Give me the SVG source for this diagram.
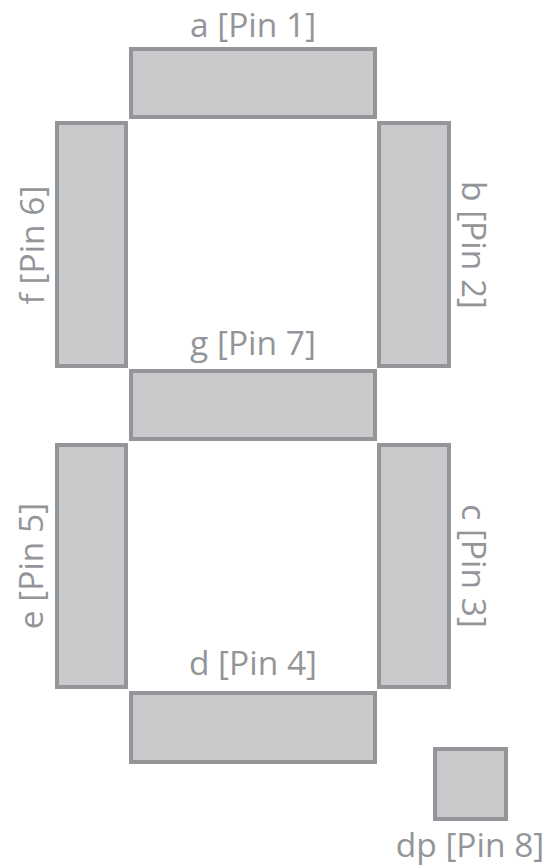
<svg xmlns="http://www.w3.org/2000/svg" width="551" height="867" viewBox="0 0 551 867">
<style>
.seg{fill:#c8c9cb;stroke:#939598;stroke-width:4}
.lbl{fill:#939598;font-family:"Open Sans","Liberation Sans",sans-serif;font-size:33.5px;text-anchor:middle}
</style>
<rect width="551" height="867" fill="#ffffff"/>
<g id="seg-a"><rect class="seg" x="131" y="49" width="244" height="68"/><text class="lbl" x="253" y="37">a [Pin 1]</text></g>
<g id="seg-f"><rect class="seg" x="57" y="123" width="69" height="243"/><text class="lbl" transform="translate(44,245) rotate(-90)">f [Pin 6]</text></g>
<g id="seg-b"><rect class="seg" x="379" y="123" width="70" height="243"/><text class="lbl" transform="translate(462,245) rotate(90)">b [Pin 2]</text></g>
<g id="seg-g"><rect class="seg" x="131" y="371" width="244" height="68"/><text class="lbl" x="253" y="355">g [Pin 7]</text></g>
<g id="seg-e"><rect class="seg" x="57" y="445" width="69" height="242"/><text class="lbl" transform="translate(43,566) rotate(-90)">e [Pin 5]</text></g>
<g id="seg-c"><rect class="seg" x="379" y="445" width="70" height="242"/><text class="lbl" transform="translate(462,566) rotate(90)">c [Pin 3]</text></g>
<g id="seg-d"><rect class="seg" x="131" y="693" width="244" height="69"/><text class="lbl" x="253" y="675">d [Pin 4]</text></g>
<g id="seg-dp"><rect class="seg" x="435" y="749" width="71" height="70"/><text class="lbl" x="470" y="857">dp [Pin 8]</text></g>
<g id="connectors"/>
</svg>
